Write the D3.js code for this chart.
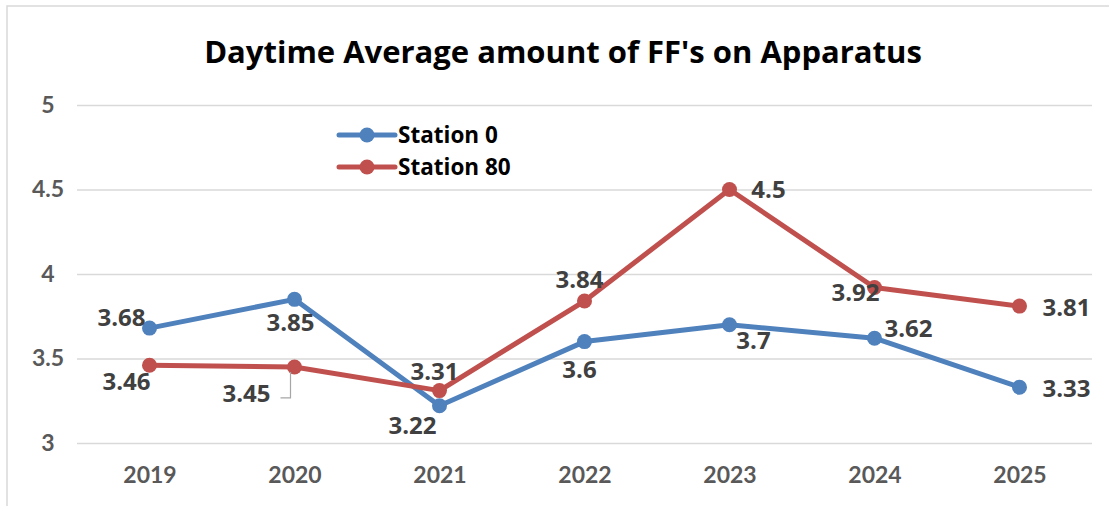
<!DOCTYPE html>
<html>
<head>
<meta charset="utf-8">
<script src="https://cdn.jsdelivr.net/npm/d3@7"></script>
<style>
  body { margin: 0; background: #fff; }
  text { font-family: Lato, "Open Sans", sans-serif; font-weight: bold; }
  .wide { font-family: "Open Sans", Lato, sans-serif; }
</style>
</head>
<body>
<div id="chart"></div>
<script>
var years = ["2019", "2020", "2021", "2022", "2023", "2024", "2025"];
var station0 = [3.68, 3.85, 3.22, 3.6, 3.7, 3.62, 3.33];
var station80 = [3.46, 3.45, 3.31, 3.84, 4.5, 3.92, 3.81];
var yTicks = [3, 3.5, 4, 4.5, 5];
var seriesNames = ["Station 0", "Station 80"];

// label offsets from each point (dx, dy of text centre)
var labelOff0 = [[-28, -11], [-4, 23], [-27, 20], [-5, 28], [24, 16], [34, -10], [47, 1]];
var labelOff80 = [[-23, 16], [-48, 26], [-5, -19], [-5, -22], [39, 0], [-19, 5], [47, 1]];

var width = 1109, height = 506;
var colors = ["#4f81bd", "#c0504d"];

var svg = d3.select("#chart").append("svg")
    .attr("width", width)
    .attr("height", height);

// chart border
svg.append("rect")
    .attr("x", 7).attr("y", 6)
    .attr("width", width + 10).attr("height", height + 10)
    .attr("fill", "none")
    .attr("stroke", "#d9d9d9")
    .attr("stroke-width", 1.5);

var x = d3.scalePoint()
    .domain(years)
    .range([77, 1092])
    .padding(0.5);

var y = d3.scaleLinear()
    .domain([3, 5])
    .range([443, 105]);

// gridlines + y labels
var yAxis = svg.append("g")
    .attr("transform", "translate(77,0)")
    .call(d3.axisLeft(y).tickValues(yTicks).tickSize(-1015).tickPadding(18)
        .tickFormat(function(d){ return d; }));
yAxis.select(".domain").remove();
yAxis.selectAll(".tick line").attr("stroke", "#d9d9d9").attr("stroke-width", 1.5);
yAxis.selectAll(".tick text")
    .attr("x", -29)
    .attr("text-anchor", "middle")
    .attr("fill", "#595959")
    .style("font-size", "23px");

var xAxis = svg.append("g")
    .attr("transform", "translate(0,443)")
    .call(d3.axisBottom(x).tickSize(0).tickPadding(24));
xAxis.select(".domain").remove();
xAxis.selectAll(".tick text")
    .attr("fill", "#595959")
    .style("font-size", "23px");

// title
svg.append("text")
    .attr("class", "wide")
    .attr("x", 563).attr("y", 63)
    .attr("text-anchor", "middle")
    .attr("fill", "#000")
    .style("font-size", "31px")
    .text("Daytime Average amount of FF's on Apparatus");

var line = d3.line()
    .x(function(d, i){ return x(years[i]); })
    .y(function(d){ return y(d); });

var series = [station0, station80];
var offsets = [labelOff0, labelOff80];

series.forEach(function(vals, s) {
    svg.append("path")
        .datum(vals)
        .attr("fill", "none")
        .attr("stroke", colors[s])
        .attr("stroke-width", 5)
        .attr("stroke-linejoin", "round")
        .attr("d", line);

    svg.selectAll(".pt" + s)
        .data(vals)
        .enter().append("circle")
        .attr("class", "pt" + s)
        .attr("cx", function(d, i){ return x(years[i]); })
        .attr("cy", function(d){ return y(d); })
        .attr("r", 7.5)
        .attr("fill", colors[s]);
});

// leader line for 3.45
svg.append("path")
    .attr("d", "M" + (x("2020") - 14) + "," + (y(station80[1]) + 31) +
               "H" + (x("2020") - 4) + "V" + (y(station80[1]) + 5))
    .attr("fill", "none")
    .attr("stroke", "#a6a6a6")
    .attr("stroke-width", 1.2);

series.forEach(function(vals, s) {
    svg.selectAll(".lbl" + s)
        .data(vals)
        .enter().append("text")
        .attr("class", "wide lbl" + s)
        .attr("x", function(d, i){ return x(years[i]) + offsets[s][i][0]; })
        .attr("y", function(d, i){ return y(d) + offsets[s][i][1]; })
        .attr("dy", "0.36em")
        .attr("text-anchor", "middle")
        .attr("fill", "#404040")
        .style("font-size", "24px")
        .text(function(d){ return d; });
});

// legend
var legend = svg.selectAll(".legend")
    .data(seriesNames)
    .enter().append("g")
    .attr("class", "legend")
    .attr("transform", function(d, i){ return "translate(339," + (135 + i * 32) + ")"; });

legend.append("line")
    .attr("x1", 0).attr("x2", 56)
    .attr("stroke", function(d, i){ return colors[i]; })
    .attr("stroke-width", 5)
    .attr("stroke-linecap", "round");
legend.append("circle")
    .attr("cx", 28).attr("r", 7.5)
    .attr("fill", function(d, i){ return colors[i]; });
legend.append("text")
    .attr("class", "wide")
    .attr("x", 59).attr("dy", "0.36em")
    .attr("fill", "#000")
    .style("font-size", "22.5px")
    .text(function(d){ return d; });
</script>
</body>
</html>
